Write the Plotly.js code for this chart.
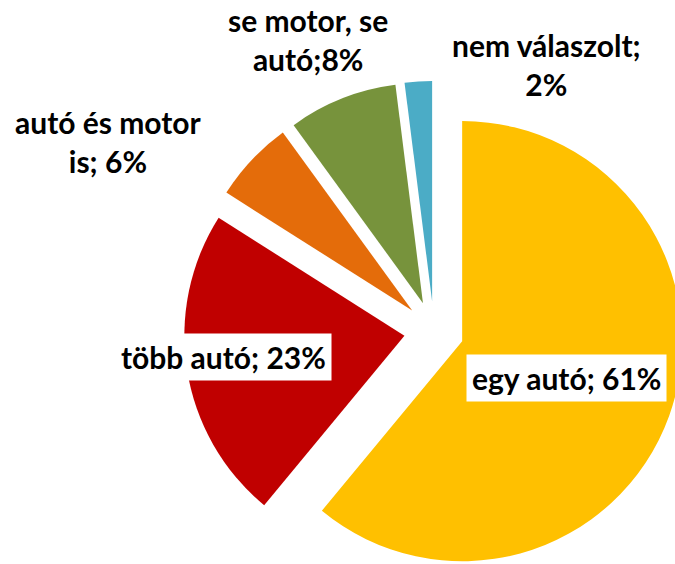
<!DOCTYPE html>
<html>
<head>
<meta charset="utf-8">
<script src="https://cdn.plot.ly/plotly-3.0.1.min.js"></script>
<style>
  html, body { margin: 0; padding: 0; overflow: hidden; background: #ffffff; }
  #chart { width: 700px; height: 600px; }
</style>
</head>
<body>
<div id="chart"></div>
<script>
// ---- data ----
var categories = ["egy autó", "több autó", "autó és motor is", "se motor, se autó", "nem válaszolt"];
var shares = [61, 23, 6, 8, 2];
var sliceColors = ["#FFC000", "#C00000", "#E46C0A", "#77933C", "#4BACC6"];
var labelTexts = [
  "egy autó; 61%",
  "több autó; 23%",
  "autó és motor<br>is; 6%",
  "se motor, se<br>autó;8%",
  "nem válaszolt;<br>2%"
];

// ---- layout helpers (pixel -> paper) ----
var W = 700, H = 600;
function px(x) { return x / W; }
function py(y) { return 1 - y / H; }

var cx = 434, cy = 331, half = 250;
var pullFrac = 0.136;

var labelPos = [
  {x: 566, y: 378, box: true},
  {x: 223, y: 357, box: true},
  {x: 108, y: 141, box: false},
  {x: 308, y: 40,  box: false},
  {x: 546, y: 64,  box: false}
];

var fontFam = "Lato, 'Liberation Sans', Arial, sans-serif";
var fs = 30;

var annotations = labelTexts.map(function (t, i) {
  var p = labelPos[i];
  return {
    xref: "paper", yref: "paper",
    x: px(p.x), y: py(p.y),
    xanchor: "center", yanchor: "middle",
    text: "<b>" + t + "</b>",
    showarrow: false,
    align: "center",
    font: {family: fontFam, size: fs, color: "#000000"},
    bgcolor: p.box ? "#ffffff" : "rgba(0,0,0,0)",
    borderpad: p.box ? 5 : 0
  };
});

var trace = {
  type: "pie",
  labels: categories,
  values: shares,
  sort: false,
  direction: "clockwise",
  rotation: 0,
  pull: shares.map(function () { return pullFrac; }),
  marker: {colors: sliceColors, line: {width: 0}},
  textinfo: "none",
  hoverinfo: "label+percent",
  domain: {
    x: [px(cx - half), px(cx + half)],
    y: [py(cy + half), py(cy - half)]
  }
};

var layout = {
  width: W, height: H,
  margin: {l: 0, r: 0, t: 0, b: 0},
  paper_bgcolor: "#ffffff",
  showlegend: false,
  annotations: annotations
};

Plotly.newPlot("chart", [trace], layout, {displayModeBar: false, staticPlot: true});
</script>
</body>
</html>
